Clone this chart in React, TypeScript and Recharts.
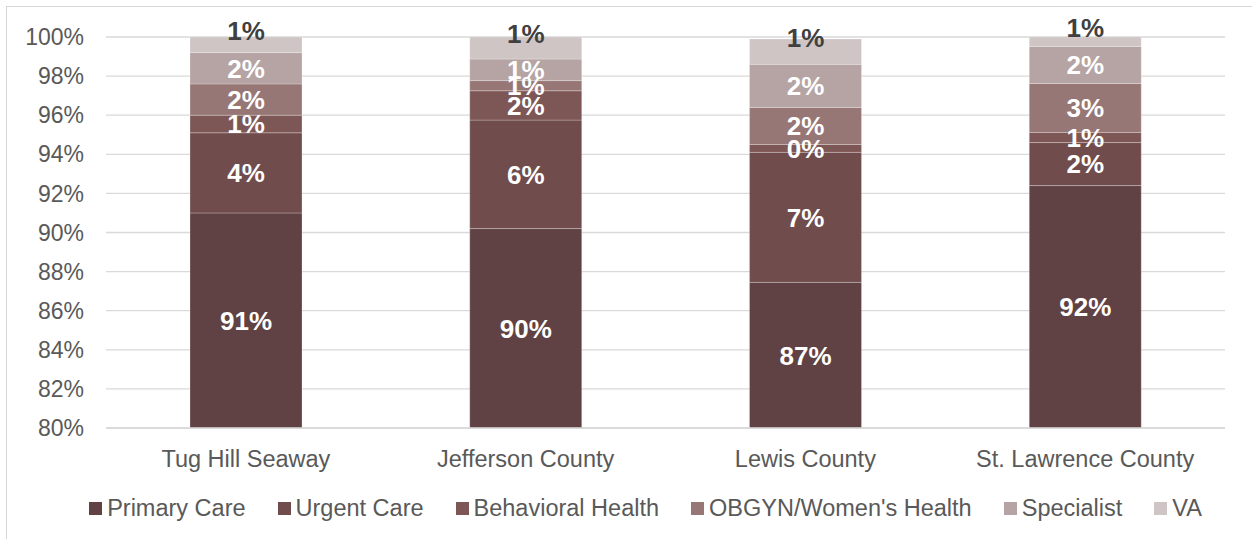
import React from "react";
import {
  BarChart,
  Bar,
  XAxis,
  YAxis,
  CartesianGrid,
  Legend,
  LabelList,
} from "recharts";

const categories = [
  "Tug Hill Seaway",
  "Jefferson County",
  "Lewis County",
  "St. Lawrence County",
];
const primaryCare = [91.0, 90.2, 87.45, 92.4];
const urgentCare = [4.1, 5.55, 6.65, 2.2];
const behavioralHealth = [0.9, 1.5, 0.4, 0.52];
const obgyn = [1.6, 0.52, 1.9, 2.5];
const specialist = [1.6, 1.1, 2.2, 1.9];
const va = [0.8, 1.15, 1.3, 0.5];
const yTicks = [80, 82, 84, 86, 88, 90, 92, 94, 96, 98, 100];

const rows = categories.map((name, i) => ({
  name,
  primary: primaryCare[i],
  urgent: urgentCare[i],
  behavioral: behavioralHealth[i],
  obgyn: obgyn[i],
  specialist: specialist[i],
  va: va[i],
}));

const series = [
  { key: "primary", label: "Primary Care", color: "#604244" },
  { key: "urgent", label: "Urgent Care", color: "#704d4c" },
  { key: "behavioral", label: "Behavioral Health", color: "#7d5755" },
  { key: "obgyn", label: "OBGYN/Women's Health", color: "#977775" },
  { key: "specialist", label: "Specialist", color: "#b5a4a3" },
  { key: "va", label: "VA", color: "#cec5c4" },
];

const FONT = '"Liberation Sans", Arial, sans-serif';
const W = 1252;
const H = 539;
const PLOT_TOP = 37;
const PLOT_BOTTOM = 428;

// label drawn at the middle of the visible part of a segment
const segLabel = (dark: boolean) => (props: any) => {
  const vb = props.viewBox ?? props;
  const { x, y, width, height } = vb;
  if (props.value == null) return null;
  const top = Math.max(Math.min(y, y + height), PLOT_TOP);
  const bot = Math.min(Math.max(y, y + height), PLOT_BOTTOM);
  const cy = (top + bot) / 2 + (dark ? -14.5 : 0);
  return (
    <text
      x={x + width / 2}
      y={cy}
      dy="0.36em"
      textAnchor="middle"
      fill={dark ? "#404040" : "#ffffff"}
      fontSize={26}
      fontWeight="bold"
      fontFamily={FONT}
    >
      {Math.round(Number(props.value))}%
    </text>
  );
};

const renderLegend = () => (
  <div
    style={{
      display: "flex",
      justifyContent: "center",
      alignItems: "center",
      height: 30,
      paddingLeft: 98,
      fontFamily: FONT,
      fontSize: 23.5,
      color: "#595959",
      whiteSpace: "nowrap",
    }}
  >
    {series.map((s) => (
      <div
        key={s.key}
        style={{ display: "flex", alignItems: "center", marginRight: 32 }}
      >
        <span
          style={{
            display: "inline-block",
            width: 13,
            height: 13,
            background: s.color,
            marginRight: 5,
          }}
        />
        <span>{s.label}</span>
      </div>
    ))}
  </div>
);

export default function App() {
  return (
    <div
      style={{
        position: "absolute",
        left: 0,
        top: 0,
        width: W,
        height: H,
        overflow: "hidden",
        background: "#fff",
        fontFamily: FONT,
      }}
    >
      {/* chart frame, cropped on the right and bottom */}
      <div
        style={{
          position: "absolute",
          left: 6,
          top: 6,
          width: W + 40,
          height: H + 40,
          border: "1px solid #d6d6d6",
        }}
      />
      <div style={{ position: "absolute", left: 0, top: 0 }}>
        <BarChart
          width={W}
          height={H}
          data={rows}
          margin={{ top: PLOT_TOP, right: 27, left: 0, bottom: 16 }}
          barSize={112}
        >
          <CartesianGrid vertical={false} stroke="#d9d9d9" strokeWidth={1.3} />
          <XAxis
            dataKey="name"
            height={65}
            tickLine={false}
            tickSize={0}
            tickMargin={22}
            axisLine={{ stroke: "#d9d9d9", strokeWidth: 1.3 }}
            tick={{ fill: "#595959", fontSize: 23.5, fontFamily: FONT }}
            interval={0}
          />
          <YAxis
            width={106}
            domain={[80, 100]}
            ticks={yTicks}
            allowDataOverflow
            tickFormatter={(v: number) => `${v}%`}
            axisLine={false}
            tickLine={false}
            tickSize={0}
            tickMargin={22}
            tick={{ fill: "#595959", fontSize: 23, fontFamily: FONT }}
          />
          <Legend verticalAlign="bottom" content={renderLegend} />
          {series.map((s) => (
            <Bar
              key={s.key}
              dataKey={s.key}
              name={s.label}
              stackId="a"
              fill={s.color}
              stroke="#ffffff"
              strokeOpacity={0.25}
              strokeWidth={1}
              isAnimationActive={false}
            >
              <LabelList dataKey={s.key} content={segLabel(s.key === "va")} />
            </Bar>
          ))}
        </BarChart>
      </div>
    </div>
  );
}
